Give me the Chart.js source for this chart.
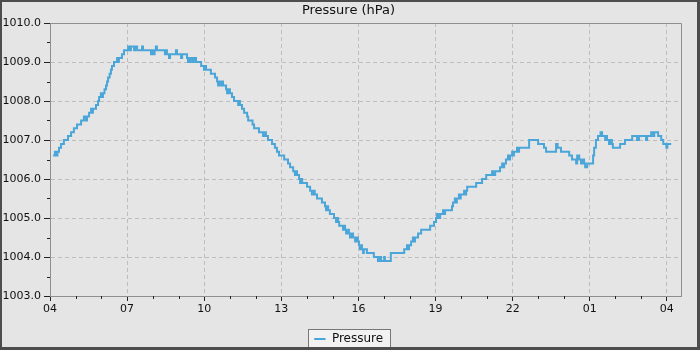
<!DOCTYPE html>
<html>
<head>
<meta charset="utf-8">
<script src="https://cdn.jsdelivr.net/npm/chart.js@4.4.0/dist/chart.umd.min.js"></script>
<style>
  html, body { margin: 0; padding: 0; background: #e5e5e5; }
  #wrap { width: 700px; height: 350px; }
</style>
</head>
<body>
<div id="wrap"><canvas id="c" width="700" height="350"></canvas></div>
<script>
// Barometer readings over one day: time in hours from midnight of the first day, pressure in hPa.
const hours = [
  4.12, 4.19, 4.25, 4.29, 4.35, 4.43, 4.54, 4.70, 4.82, 4.93, 5.05, 5.21, 5.32, 5.40, 5.44, 5.52,
  5.60, 5.63, 5.67, 5.79, 5.87, 5.91, 5.98, 6.02, 6.06, 6.12, 6.18, 6.22, 6.26, 6.32, 6.37, 6.41,
  6.49, 6.61, 6.65, 6.68, 6.80, 6.88, 7.04, 7.11, 7.15, 7.27, 7.31, 7.39, 7.58, 7.62, 7.93, 7.97,
  8.03, 8.07, 8.12, 8.16, 8.47, 8.51, 8.55, 8.63, 8.67, 8.90, 8.94, 9.10, 9.14, 9.33, 9.37, 9.45,
  9.53, 9.60, 9.68, 9.88, 9.99, 10.03, 10.07, 10.26, 10.42, 10.50, 10.54, 10.58, 10.61, 10.69, 10.73, 10.85,
  10.89, 10.93, 11.00, 11.08, 11.16, 11.32, 11.36, 11.39, 11.47, 11.55, 11.67, 11.71, 11.88, 11.94, 12.13, 12.29,
  12.37, 12.40, 12.48, 12.64, 12.75, 12.83, 12.91, 13.11, 13.26, 13.34, 13.46, 13.53, 13.57, 13.61, 13.69, 13.73,
  13.77, 13.81, 14.00, 14.12, 14.19, 14.23, 14.30, 14.39, 14.58, 14.70, 14.74, 14.78, 14.82, 14.89, 15.05, 15.13,
  15.17, 15.21, 15.25, 15.40, 15.44, 15.48, 15.52, 15.60, 15.63, 15.67, 15.75, 15.79, 15.87, 15.91, 15.98, 16.02,
  16.06, 16.10, 16.14, 16.18, 16.21, 16.33, 16.60, 16.76, 16.84, 16.88, 17.00, 17.03, 17.26, 17.78, 17.89, 17.93,
  17.97, 18.05, 18.12, 18.16, 18.20, 18.32, 18.44, 18.79, 18.94, 19.02, 19.06, 19.10, 19.18, 19.29, 19.33, 19.37,
  19.64, 19.68, 19.75, 19.79, 19.83, 19.91, 19.95, 19.98, 20.11, 20.15, 20.19, 20.23, 20.58, 20.81, 20.97, 21.20,
  21.24, 21.32, 21.51, 21.59, 21.63, 21.67, 21.74, 21.82, 21.86, 21.90, 21.98, 22.02, 22.05, 22.17, 22.21, 22.25,
  22.64, 22.99, 23.22, 23.30, 23.69, 23.75, 23.88, 24.20, 24.31, 24.47, 24.51, 24.59, 24.66, 24.74, 24.78, 24.82,
  24.90, 25.13, 25.17, 25.24, 25.32, 25.42, 25.48, 25.60, 25.63, 25.67, 25.75, 25.79, 25.86, 25.90, 26.18, 26.37,
  26.65, 26.84, 26.92, 27.19, 27.23, 27.39, 27.47, 27.51, 27.66, 27.78, 27.86, 27.98, 28.02, 28.17
];
const pressure = [
  1006.6, 1006.7, 1006.6, 1006.7, 1006.8, 1006.9, 1007.0, 1007.1, 1007.2, 1007.3, 1007.4, 1007.5, 1007.6, 1007.5, 1007.6, 1007.7,
  1007.8, 1007.7, 1007.8, 1007.9, 1008.0, 1008.1, 1008.2, 1008.1, 1008.2, 1008.3, 1008.4, 1008.5, 1008.6, 1008.7, 1008.8, 1008.9,
  1009.0, 1009.1, 1009.0, 1009.1, 1009.2, 1009.3, 1009.4, 1009.3, 1009.4, 1009.3, 1009.4, 1009.3, 1009.4, 1009.3, 1009.2, 1009.3,
  1009.2, 1009.3, 1009.4, 1009.3, 1009.2, 1009.3, 1009.2, 1009.1, 1009.2, 1009.3, 1009.2, 1009.1, 1009.2, 1009.1, 1009.0, 1009.1,
  1009.0, 1009.1, 1009.0, 1008.9, 1008.8, 1008.9, 1008.8, 1008.7, 1008.6, 1008.5, 1008.4, 1008.5, 1008.4, 1008.5, 1008.4, 1008.3,
  1008.2, 1008.3, 1008.2, 1008.1, 1008.0, 1007.9, 1008.0, 1007.9, 1007.8, 1007.7, 1007.6, 1007.5, 1007.4, 1007.3, 1007.2, 1007.1,
  1007.2, 1007.1, 1007.0, 1006.9, 1006.8, 1006.7, 1006.6, 1006.5, 1006.4, 1006.3, 1006.2, 1006.1, 1006.2, 1006.1, 1006.0, 1005.9,
  1006.0, 1005.9, 1005.8, 1005.7, 1005.6, 1005.7, 1005.6, 1005.5, 1005.4, 1005.3, 1005.2, 1005.3, 1005.2, 1005.1, 1005.0, 1004.9,
  1005.0, 1004.9, 1004.8, 1004.7, 1004.8, 1004.7, 1004.6, 1004.7, 1004.6, 1004.5, 1004.6, 1004.5, 1004.4, 1004.5, 1004.4, 1004.3,
  1004.2, 1004.3, 1004.2, 1004.1, 1004.2, 1004.1, 1004.0, 1003.9, 1004.0, 1003.9, 1004.0, 1003.9, 1004.1, 1004.2, 1004.3, 1004.2,
  1004.3, 1004.4, 1004.5, 1004.4, 1004.5, 1004.6, 1004.7, 1004.8, 1004.9, 1005.0, 1005.1, 1005.0, 1005.1, 1005.2, 1005.1, 1005.2,
  1005.3, 1005.4, 1005.5, 1005.4, 1005.5, 1005.6, 1005.5, 1005.6, 1005.7, 1005.6, 1005.7, 1005.8, 1005.9, 1006.0, 1006.1, 1006.2,
  1006.1, 1006.2, 1006.3, 1006.4, 1006.3, 1006.4, 1006.5, 1006.6, 1006.5, 1006.6, 1006.7, 1006.6, 1006.7, 1006.8, 1006.7, 1006.8,
  1007.0, 1006.9, 1006.8, 1006.7, 1006.9, 1006.8, 1006.7, 1006.6, 1006.5, 1006.4, 1006.6, 1006.5, 1006.4, 1006.5, 1006.4, 1006.3,
  1006.4, 1006.6, 1006.8, 1007.0, 1007.1, 1007.2, 1007.1, 1007.0, 1007.1, 1007.0, 1006.9, 1007.0, 1006.9, 1006.8, 1006.9, 1007.0,
  1007.1, 1007.0, 1007.1, 1007.0, 1007.1, 1007.2, 1007.1, 1007.2, 1007.1, 1007.0, 1006.9, 1006.8, 1006.9, 1006.9
];

// Axis ticks: labelled hours every 3 h, pressure every 1 hPa.
const xTickHours = [4, 7, 10, 13, 16, 19, 22, 25, 28];
const yTickValues = [1003, 1004, 1005, 1006, 1007, 1008, 1009, 1010];

const LINE = '#4aa6d9';
const AXIS = '#8f8f8f';
const GRID = '#bdbdbd';
const FONT = "'DejaVu Sans', sans-serif";

// Title and legend are centred over the space right of the value labels.
const centring = {
  id: 'centring',
  afterLayout(chart) {
    if (chart.titleBlock) chart.titleBlock.left = 16;
    if (chart.legend) chart.legend.left = 16;
  }
};

// Short unlabelled ticks between the labelled ones, plus the box round the plot and the legend.
const decorations = {
  id: 'decorations',
  beforeDraw(chart) {
    const ctx = chart.ctx;
    ctx.save();
    ctx.fillStyle = '#e5e5e5';
    ctx.fillRect(0, 0, chart.width, chart.height);
    const hb = chart.legend && chart.legend.legendHitBoxes && chart.legend.legendHitBoxes[0];
    if (hb) {
      const l = Math.round(hb.left) - 5.5, t = Math.round(hb.top) - 3.5;
      const w = Math.round(hb.width) + 13, h = Math.round(hb.height) + 6;
      ctx.fillStyle = '#f2f2f2';
      ctx.fillRect(l, t, w, h);
      ctx.strokeStyle = '#777';
      ctx.lineWidth = 1;
      ctx.strokeRect(l, t, w, h);
    }
    ctx.restore();
  },
  afterDraw(chart) {
    const ctx = chart.ctx;
    const { left, right, top, bottom } = chart.chartArea;
    const xs = chart.scales.x, ys = chart.scales.y;
    ctx.save();
    ctx.strokeStyle = '#222';
    ctx.lineWidth = 1;
    ctx.beginPath();
    for (let h = Math.ceil(xs.min); h <= xs.max; h++) {
      if (xTickHours.includes(h)) continue;
      const px = Math.round(xs.getPixelForValue(h)) + 0.5;
      ctx.moveTo(px, bottom); ctx.lineTo(px, bottom + 3);
    }
    for (let v = ys.min + 0.5; v < ys.max; v += 1) {
      const py = Math.round(ys.getPixelForValue(v)) + 0.5;
      ctx.moveTo(left, py); ctx.lineTo(left - 3, py);
    }
    ctx.stroke();
    // top and right edges of the plot box
    ctx.strokeStyle = AXIS;
    ctx.beginPath();
    ctx.moveTo(Math.round(left) + 0.5, Math.round(top) + 0.5);
    ctx.lineTo(Math.round(right) + 0.5, Math.round(top) + 0.5);
    ctx.lineTo(Math.round(right) + 0.5, Math.round(bottom) + 0.5);
    ctx.stroke();
    // dark outer frame
    ctx.fillStyle = '#4d4d4d';
    ctx.fillRect(0, 0, chart.width, 2);
    ctx.fillRect(0, 0, 2, chart.height);
    ctx.fillRect(chart.width - 3, 0, 3, chart.height);
    ctx.fillRect(0, chart.height - 3, chart.width, 3);
    ctx.restore();
  }
};

new Chart(document.getElementById('c'), {
  type: 'line',
  data: {
    datasets: [{
      label: 'Pressure',
      data: hours.map((h, i) => ({ x: h, y: pressure[i] })),
      borderColor: LINE,
      backgroundColor: LINE,
      borderWidth: 2,
      pointRadius: 0,
      stepped: 'before',   // each reading holds until the next one
      fill: false
    }]
  },
  options: {
    responsive: false,
    animation: false,
    events: [],
    layout: { padding: { left: 0, right: 19, top: 0, bottom: -5 } },
    plugins: {
      title: {
        display: true,
        text: 'Pressure (hPa)',
        color: '#111',
        font: { family: FONT, size: 13, weight: 'normal' },
        padding: { top: 3, bottom: 4.4 }
      },
      legend: {
        display: true,
        position: 'bottom',
        labels: {
          color: '#111',
          font: { family: FONT, size: 12 },
          usePointStyle: true,
          pointStyle: 'line',
          boxHeight: 8,
          padding: 4
        }
      },
      tooltip: { enabled: false }
    },
    scales: {
      x: {
        type: 'linear',
        min: 4,
        max: 28.55,
        afterBuildTicks: s => { s.ticks = xTickHours.map(v => ({ value: v })); },
        afterFit: s => { s.height = 33; },
        ticks: {
          color: '#111',
          font: { family: FONT, size: 11 },
          padding: 2,
          maxRotation: 0,
          autoSkip: false,
          callback: v => String(((v % 24) + 24) % 24).padStart(2, '0')
        },
        grid: { color: GRID, lineWidth: 1, tickColor: '#222', tickLength: 5 },
        border: { color: AXIS, width: 1, dash: [4, 3] }
      },
      y: {
        type: 'linear',
        min: 1003,
        max: 1010,
        afterBuildTicks: s => { s.ticks = yTickValues.map(v => ({ value: v })); },
        afterFit: s => { s.width = 50; },
        ticks: {
          color: '#111',
          font: { family: FONT, size: 11 },
          padding: 3,
          autoSkip: false,
          callback: v => Number(v).toFixed(1)
        },
        grid: { color: GRID, lineWidth: 1, tickColor: '#222', tickLength: 6 },
        border: { color: AXIS, width: 1, dash: [4, 3] }
      }
    }
  },
  plugins: [centring, decorations]
});
</script>
</body>
</html>
